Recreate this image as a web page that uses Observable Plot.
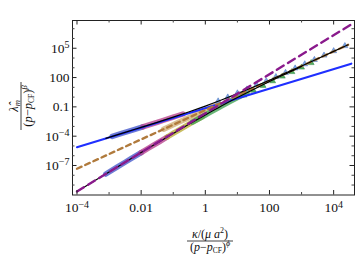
<!DOCTYPE html>
<html><head><meta charset="utf-8">
<script src="https://cdn.jsdelivr.net/npm/d3@7"></script>
<script src="https://cdn.jsdelivr.net/npm/@observablehq/plot@0.6"></script>
<style>body{margin:0;background:#fff}#chart{width:357px;height:254px}</style>
</head><body><div id="chart"></div>
<script>
// ---- tick values & labels ----
const xTicks = [1e-4, 1e-2, 1, 1e2, 1e4];
const xTickLabels = ["10^-4", "0.01", "1", "100", "10^4"];
const yTicks = [1e-7, 1e-4, 1e-1, 1e2, 1e5];
const yTickLabels = ["10^-7", "10^-4", "0.1", "100", "10^5"];
const xMinorDecades = [1e-3, 1e-1, 1e1, 1e3];
const yMinorDecades = [1e-9, 1e-8, 1e-6, 1e-5, 1e-3, 1e-2, 1, 1e1, 1e3, 1e4, 1e6, 1e7];
const xDomainLog = [-4.14, 4.65];
const yDomainLog = [-10.02, 7.84];

// ---- reference power laws (log10 x, log10 y), read at their ends ----
const blueLogX = [-4, 4.55],   blueLogY = [-5.13, 3.42];
const purpleLogX = [-4, 4.55], purpleLogY = [-9.66, 7.44];
const brownLogX = [-4, 4.45],  brownLogY = [-7.33, 5.35];

// ---- black fitted scaling curves ----
const upperLogX = [-3.1, -2.5, -2, -1.5, -1, -0.5, 0, 0.5, 1, 1.5, 2, 2.5, 3, 3.5, 4, 4.45];
const upperLogY = [-4.22, -3.61, -3.10, -2.58, -2.05, -1.50, -0.92, -0.30, 0.35, 1.03, 1.73, 2.46, 3.19, 3.93, 4.68, 5.35];
const lowerLogX = [-4, -3.5, -3, -2.5, -2, -1.5, -1, -0.5, 0, 0.5, 1, 1.5, 2, 2.5, 3];
const lowerLogY = [-9.66, -8.66, -7.67, -6.67, -5.68, -4.70, -3.72, -2.76, -1.83, -0.92, -0.05, 0.78, 1.59, 2.37, 3.14];

// ---- dense data bands (log10 x, log10 y) ----
const upBlueX = [-2.9, -2.4, -1.95],          upBlueY = [-4.02, -3.51, -3.05];
const upMagX = [-1.95, -1.5, -1, -0.7],       upMagY = [-3.05, -2.58, -2.05, -1.73];
const loBlueX = [-3.1, -2.5, -2.0],           loBlueY = [-7.87, -6.67, -5.68];
const loMagX = [-2.0, -1.6, -1.2],            loMagY = [-5.68, -4.89, -4.11];
const loOliveX = [-1.2, -0.8, -0.4, -0.1],    loOliveY = [-4.11, -3.33, -2.57, -2.01];
const loGreenX = [-0.4, 0, 0.5, 1.0, 1.3],    loGreenY = [-2.57, -1.83, -0.92, -0.05, 0.45];
const midTanX = [-1.3, -0.5, 0.4],            midTanY = [-3.28, -2.08, -0.73];

// ---- scattered triangles at large x ----
const ltBlueTriX = [0.4, 0.7, 1.0, 1.3, 1.6, 1.9, 2.2, 2.5, 2.8, 3.1, 3.4, 3.7, 4.0, 4.35];
const ltBlueTriY = [-0.42, -0.02, 0.40, 0.80, 1.22, 1.64, 2.07, 2.50, 2.95, 3.38, 3.82, 4.27, 4.72, 5.24];
const greenTriX = [1.2, 1.5, 1.8, 2.1, 2.4, 2.7, 3.0, 3.3];
const greenTriY = [0.18, 0.68, 1.17, 1.64, 2.12, 2.58, 3.04, 3.50];

const pts = (lx, ly) => lx.map((v, i) => ({x: 10 ** v, y: 10 ** ly[i]}));

const W = 357, H = 254, mL = 72, mR = 3, mT = 20, mB = 59.5;
const pH = H - mT - mB, pW = W - mL - mR;
const serif = "'Liberation Serif', 'Times New Roman', 'DejaVu Serif', serif";

const band = (lx, ly, color) => Plot.line(pts(lx, ly), {x: "x", y: "y", stroke: color, strokeWidth: 5.5, strokeOpacity: 0.8, strokeLinecap: "round", curve: "catmull-rom"});

const plot = Plot.plot({
  width: W, height: H,
  marginLeft: mL, marginRight: mR, marginTop: mT, marginBottom: mB,
  style: {fontFamily: serif, fontSize: "13.5px", background: "#fff", color: "#111"},
  x: {type: "log", domain: [10 ** xDomainLog[0], 10 ** xDomainLog[1]]},
  y: {type: "log", domain: [10 ** yDomainLog[0], 10 ** yDomainLog[1]]},
  marks: [
    band(midTanX, midTanY, "#d2b27a"),
    band(upBlueX, upBlueY, "#4a5ccc"),
    band(upMagX, upMagY, "#b8468f"),
    band(loBlueX, loBlueY, "#4a5ccc"),
    band(loMagX, loMagY, "#b8468f"),
    band(loOliveX, loOliveY, "#bcae3c"),
    band(loGreenX, loGreenY, "#45a556"),
    Plot.dot(pts(greenTriX, greenTriY), {x: "x", y: "y", symbol: "triangle", r: 2.2, fill: "#4fb060", stroke: "#2e8040", strokeWidth: 0.5}),
    Plot.dot(pts(ltBlueTriX, ltBlueTriY), {x: "x", y: "y", symbol: "triangle", r: 2.2, fill: "#7aa6e6", stroke: "#4a70b8", strokeWidth: 0.5}),
    Plot.line(pts(blueLogX, blueLogY), {x: "x", y: "y", stroke: "#1f2fff", strokeWidth: 2.2}),
    Plot.line(pts(brownLogX, brownLogY), {x: "x", y: "y", stroke: "#b07a3c", strokeWidth: 2.4, strokeDasharray: "5,4"}),
    Plot.line(pts(upperLogX, upperLogY), {x: "x", y: "y", stroke: "#000", strokeWidth: 1.2, curve: "catmull-rom"}),
    Plot.line(pts(lowerLogX, lowerLogY), {x: "x", y: "y", stroke: "#000", strokeWidth: 1.2, curve: "catmull-rom"}),
    Plot.line(pts(purpleLogX, purpleLogY), {x: "x", y: "y", stroke: "#8a1a8c", strokeWidth: 2.4, strokeDasharray: "8,5"}),
    Plot.frame({stroke: "#222", strokeWidth: 1}),
    // inward ticks on all four sides
    Plot.ruleX(xTicks, {x: d => d, insetTop: pH - 4.5, stroke: "#222"}),
    Plot.ruleX(xTicks, {x: d => d, insetBottom: pH - 4.5, stroke: "#222"}),
    Plot.ruleX(xMinorDecades, {x: d => d, insetTop: pH - 2.5, stroke: "#444"}),
    Plot.ruleX(xMinorDecades, {x: d => d, insetBottom: pH - 2.5, stroke: "#444"}),
    Plot.ruleY(yTicks, {y: d => d, insetRight: pW - 4.5, stroke: "#222"}),
    Plot.ruleY(yTicks, {y: d => d, insetLeft: pW - 4.5, stroke: "#222"}),
    Plot.ruleY(yMinorDecades, {y: d => d, insetRight: pW - 2.5, stroke: "#444"}),
    Plot.ruleY(yMinorDecades, {y: d => d, insetLeft: pW - 2.5, stroke: "#444"}),
    Plot.axisX(xTicks, {anchor: "bottom", tickSize: 0, tickPadding: 7.5, label: null, fontSize: 13.5,
      tickFormat: d => xTickLabels[xTicks.indexOf(d)]}),
    Plot.axisY(yTicks, {anchor: "left", tickSize: 0, tickPadding: 3, label: null, fontSize: 13.5,
      tickFormat: d => yTickLabels[yTicks.indexOf(d)]})
  ]
});

const svg = d3.select(plot);
// superscript exponents in tick labels
svg.selectAll("text").each(function () {
  const t = this.textContent;
  if (t.includes("^")) {
    const [b, e] = t.split("^");
    const el = d3.select(this);
    el.text(b);
    el.append("tspan").attr("dy", "-0.45em").attr("font-size", "10px").text(e.replace("-", "\u2212"));
  }
});

// x-axis label (fraction)
const gx = svg.append("g").attr("transform", "translate(210,241)")
  .attr("font-family", serif).attr("font-size", 12).attr("text-anchor", "middle").attr("fill", "#111");
const nx = gx.append("text").attr("y", -3.5);
nx.append("tspan").attr("font-style", "italic").text("\u03ba");
nx.append("tspan").text("/(");
nx.append("tspan").attr("font-style", "italic").text("\u03bc a");
nx.append("tspan").attr("font-size", 8).attr("dy", -4.5).text("2");
nx.append("tspan").attr("dy", 4.5).text(")");
gx.append("line").attr("x1", -23).attr("x2", 23).attr("y1", 0).attr("y2", 0).attr("stroke", "#111").attr("stroke-width", 0.8);
const dx = gx.append("text").attr("y", 9.5);
dx.append("tspan").text("(");
dx.append("tspan").attr("font-style", "italic").text("p");
dx.append("tspan").text("\u2212");
dx.append("tspan").attr("font-style", "italic").text("p");
dx.append("tspan").attr("font-size", 7.5).attr("dy", 2).text("CF");
dx.append("tspan").attr("dy", -2).text(")");
dx.append("tspan").attr("font-size", 8).attr("font-style", "italic").attr("dy", -4.5).text("\u03d5");

// y-axis label (fraction, rotated)
const gy = svg.append("g").attr("transform", "translate(21,106) rotate(-90)")
  .attr("font-family", serif).attr("font-size", 12.5).attr("text-anchor", "middle").attr("fill", "#111");
const ny = gy.append("text").attr("y", -3.5);
ny.append("tspan").attr("font-style", "italic").text("\u03bb\u0302");
ny.append("tspan").attr("font-style", "italic").attr("font-size", 8.5).attr("dy", 2.5).text("m");
gy.append("line").attr("x1", -24).attr("x2", 24).attr("y1", 0).attr("y2", 0).attr("stroke", "#111").attr("stroke-width", 0.8);
const dy = gy.append("text").attr("y", 11);
dy.append("tspan").text("(");
dy.append("tspan").attr("font-style", "italic").text("p");
dy.append("tspan").text("\u2212");
dy.append("tspan").attr("font-style", "italic").text("p");
dy.append("tspan").attr("font-size", 7.5).attr("dy", 2).text("CF");
dy.append("tspan").attr("dy", -2).text(")");
dy.append("tspan").attr("font-size", 8.5).attr("font-style", "italic").attr("dy", -5).text("\u03b2");

document.getElementById("chart").appendChild(plot);
</script>
</body></html>
